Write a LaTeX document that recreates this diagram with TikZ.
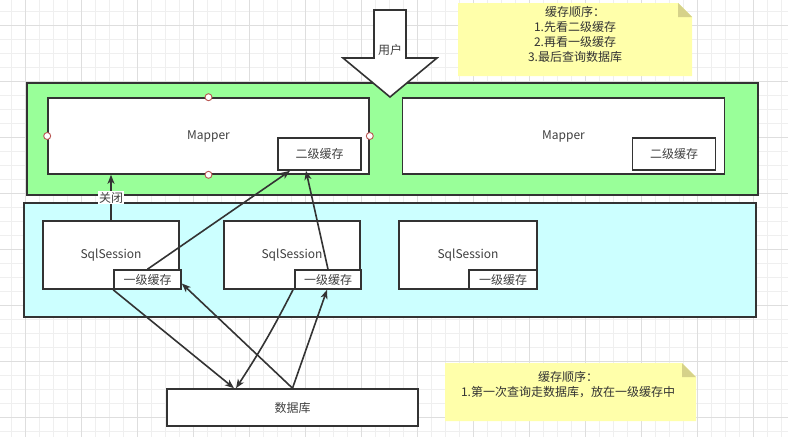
\documentclass[tikz,border=0pt]{standalone}
\usepackage{fontspec}
\newfontfamily\cjk{Noto Sans CJK SC}
\usetikzlibrary{arrows.meta}
\definecolor{edge}{HTML}{333333}
\definecolor{txt}{HTML}{404040}
\definecolor{mapgreen}{HTML}{99FF99}
\definecolor{sesscyan}{HTML}{CCFFFF}
\definecolor{notey}{HTML}{FFFFAA}
\definecolor{notefold}{HTML}{D6D28A}
\definecolor{gridminor}{HTML}{EFEFEF}
\definecolor{gridmajor}{HTML}{DEDEDE}
\definecolor{handle}{HTML}{B85450}

\begin{document}
\begin{tikzpicture}[x=1pt, y=-1pt, line width=1.6pt,
  box/.style={draw=edge, fill=white, inner sep=0pt, text=txt,
    font=\cjk\fontsize{12}{14}\selectfont},
  panel/.style={draw=edge, inner sep=0pt},
  flow/.style={draw=edge, -{Stealth[length=9pt,width=7pt,inset=2.5pt]}},
  grip/.style={circle, draw=handle, fill=white, line width=0.9pt,
    minimum size=7pt, inner sep=0pt},
  notetext/.style={align=center, text=edge, font=\cjk\fontsize{12}{15}\selectfont}]

  %% ════ 网格底 ════
  \foreach \x in {11.7,25.7,...,788} \draw[gridminor, line width=0.7pt] (\x,0) -- (\x,437);
  \foreach \y in {11.3,25.3,...,437} \draw[gridminor, line width=0.7pt] (0,\y) -- (788,\y);
  \foreach \x in {25.7,81.7,...,788} \draw[gridmajor, line width=0.8pt] (\x,0) -- (\x,437);
  \foreach \y in {25.3,81.3,...,437} \draw[gridmajor, line width=0.8pt] (0,\y) -- (788,\y);

  %% ════ 两块底板 ════
  \node[panel, fill=mapgreen, minimum width=731, minimum height=112] (mpanel) at (392.5,139) {};
  \node[panel, fill=sesscyan, minimum width=732, minimum height=114] (spanel) at (390,260) {};

  %% ════ Mapper（二级缓存）════
  \node[box, minimum width=321, minimum height=76] (mapper1) at (208.5,136) {Mapper};
  \node[box, minimum width=83, minimum height=32] (cache2a) at (319.5,154) {二级缓存};
  \node[box, minimum width=322, minimum height=76] (mapper2) at (563.5,136) {Mapper};
  \node[box, minimum width=83, minimum height=32] (cache2b) at (674,154) {二级缓存};
  % 选中时的四个把手
  \foreach \a in {north,south,east,west} \node[grip] at (mapper1.\a) {};

  %% ════ SqlSession（一级缓存）════
  \node[box, minimum width=136, minimum height=68] (ss1) at (111,255) {SqlSession};
  \node[box, minimum width=67, minimum height=19] (c1a) at (147.5,279.5) {一级缓存};
  \node[box, minimum width=136, minimum height=68] (ss2) at (292,255) {SqlSession};
  \node[box, minimum width=66, minimum height=19] (c1b) at (328,279.5) {一级缓存};
  \node[box, minimum width=138, minimum height=68] (ss3) at (468,255) {SqlSession};
  \node[box, minimum width=68, minimum height=19] (c1c) at (503,279.5) {一级缓存};

  \node[box, minimum width=251, minimum height=37] (db) at (292.5,407.5) {数据库};

  %% ════ 用户 大箭头 ════
  \draw[draw=edge, fill=white, line join=miter]
    (374,10) -- (406,10) -- (406,58) -- (437,58) -- (390,97) -- (343,58) -- (374,58) -- cycle;
  \node[text=txt, font=\cjk\fontsize{12}{14}\selectfont] (user) at (390,50) {用户};

  %% ════ 便签 ════
  \fill[notey] (458,3) -- (678,3) -- (692,17) -- (692,76) -- (458,76) -- cycle;
  \fill[notefold] (678,3) -- (678,17) -- (692,17) -- cycle;
  \node[notetext] (note1) at (575,34.5) {缓存顺序：\\1.先看二级缓存\\2.再看一级缓存\\3.最后查询数据库};
  \fill[notey] (445,363) -- (682,363) -- (696,377) -- (696,421) -- (445,421) -- cycle;
  \fill[notefold] (682,363) -- (682,377) -- (696,377) -- cycle;
  \node[notetext] (note2) at (568,385) {缓存顺序：\\1.第一次查询走数据库，放在一级缓存中};

  %% ════ 连线 ════
  \draw[flow] (ss1.north) -- (ss1.north |- mapper1.south)
    node[midway, fill=white, inner sep=1pt, text=txt, font=\cjk\fontsize{12}{14}\selectfont] {关闭};
  \draw[flow] (c1a.north) -- ([xshift=-29.5pt]cache2a.south);
  \draw[flow] (c1b.north) -- ([xshift=-13.5pt]cache2a.south);
  \draw[flow] (c1a.south west) -- ([xshift=-58.5pt]db.north);
  \draw[flow] (db.north) -- ([yshift=-4pt]c1a.east);
  \draw[flow] ([xshift=-35pt]c1b.south) to[bend left=3] ([xshift=-56.5pt]db.north);
  \draw[flow] (db.north) -- ([xshift=-1pt]c1b.south);

  \pgfresetboundingbox
  \path[use as bounding box] (0,0) rectangle (788,437);
\end{tikzpicture}
\end{document}
